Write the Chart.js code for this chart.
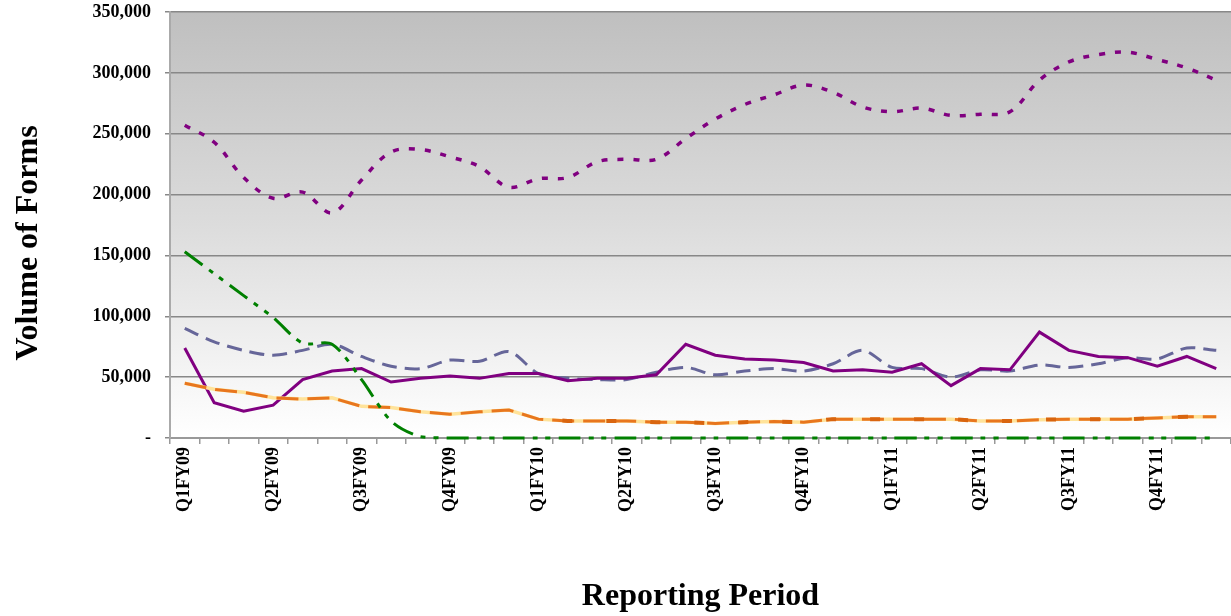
<!DOCTYPE html>
<html>
<head>
<meta charset="utf-8">
<script src="https://cdn.jsdelivr.net/npm/chart.js@4/dist/chart.umd.min.js"></script>
<style>
  html, body { margin: 0; padding: 0; background: #fff; }
  #wrap { width: 1231px; height: 616px; }
</style>
</head>
<body>
<div id="wrap"><canvas id="formsChart" width="1231" height="616"></canvas></div>
<script>
// 36 monthly periods, labelled once per quarter
const categories = [
    'Q1FY09', '', '', 'Q2FY09', '', '', 'Q3FY09', '', '', 'Q4FY09', '', '',
    'Q1FY10', '', '', 'Q2FY10', '', '', 'Q3FY10', '', '', 'Q4FY10', '', '',
    'Q1FY11', '', '', 'Q2FY11', '', '', 'Q3FY11', '', '', 'Q4FY11', '', ''
];
const yTicks = [0, 50000, 100000, 150000, 200000, 250000, 300000, 350000];

const dottedPurple = [257000, 243000, 214000, 197000, 202000, 185000, 212000, 235000, 237000, 231000, 223000, 206000,
    213000, 214000, 227000, 229000, 229000, 246000, 262000, 274000, 282000, 290000, 284000, 272000,
    268000, 271000, 265000, 266000, 268000, 294000, 309000, 315000, 317000, 311000, 304000, 294000];
const greenDashDot = [153000, 135000, 117000, 99000, 78000, 77000, 48000, 14000, 1000, 0, 0, 0,
    0, 0, 0, 0, 0, 0, 0, 0, 0, 0, 0, 0,
    0, 0, 0, 0, 0, 0, 0, 0, 0, 0, 0, 0];
const slateDashed = [90000, 79000, 72000, 68000, 72000, 77000, 67000, 59000, 57000, 64000, 63000, 71000,
    53000, 49000, 48000, 48000, 54000, 58000, 52000, 55000, 57000, 55000, 61000, 72000,
    58000, 57000, 50000, 56000, 55000, 60000, 58000, 61000, 66000, 65000, 74000, 72000];
const purpleSolid = [74000, 29000, 22000, 27000, 48000, 55000, 57000, 46000, 49000, 51000, 49000, 53000,
    53000, 47000, 49000, 49000, 52000, 77000, 68000, 65000, 64000, 62000, 55000, 56000,
    54000, 61000, 43000, 57000, 56000, 87000, 72000, 67000, 66000, 59000, 67000, 57000];
const orangeLine = [45000, 40000, 37500, 33000, 32000, 33000, 26000, 25000, 21500, 19500, 21500, 23000,
    15500, 14000, 14000, 14000, 13000, 13000, 12000, 13000, 13500, 13000, 15500, 15500,
    15500, 15500, 15500, 14000, 14000, 15000, 15500, 15500, 15500, 16500, 17500, 17500];
// second orange series, only reported from Q1FY10 on
const orangeLate = [null, null, null, null, null, null, null, null, null, null, null, null,
    15500, 14000, 14000, 14000, 13000, 13000, 12000, 13000, 13500, 13000, 15500, 15500,
    15500, 15500, 15500, 14000, 14000, 15000, 15500, 15500, 15500, 16500, 17500, 17500];

const serif = "'Liberation Serif', 'Times New Roman', serif";

// grey-to-white fill behind the plot
const plotBackground = {
    id: 'plotBackground',
    beforeDraw(chart) {
        const { ctx, chartArea } = chart;
        const g = ctx.createLinearGradient(0, chartArea.top, 0, chartArea.bottom);
        g.addColorStop(0, '#bfbfbf');
        g.addColorStop(0.5, '#dcdcdc');
        g.addColorStop(1, '#ffffff');
        ctx.save();
        ctx.fillStyle = g;
        ctx.fillRect(chartArea.left, chartArea.top, chartArea.right - chartArea.left, chartArea.bottom - chartArea.top);
        ctx.restore();
    }
};

// y axis title sits a little below the plot's middle in the original
const yTitle = {
    id: 'yTitle',
    afterDraw(chart) {
        const ctx = chart.ctx;
        ctx.save();
        ctx.translate(29, 243);
        ctx.rotate(-Math.PI / 2);
        ctx.font = 'bold 32px ' + serif;
        ctx.fillStyle = '#000';
        ctx.textAlign = 'center';
        ctx.textBaseline = 'middle';
        ctx.fillText('Volume of Forms', 0, 0);
        ctx.restore();
    }
};

// first dataset is drawn on top
new Chart(document.getElementById('formsChart'), {
    type: 'line',
    data: {
        labels: categories,
        datasets: [
            { data: greenDashDot, borderColor: '#008000', borderWidth: 3, borderDash: [22, 8, 5, 8, 5, 8], tension: 0.3, clip: false },
            { data: orangeLate, borderColor: '#d9650f', borderWidth: 4, borderDash: [10, 34], borderDashOffset: 20, tension: 0 },
            { data: orangeLine, borderColor: '#e8761e', borderWidth: 3, borderDash: [22, 9], tension: 0 },
            { data: orangeLine, borderColor: '#ffe39a', borderWidth: 3.5, tension: 0 },
            { data: purpleSolid, borderColor: '#800080', borderWidth: 3, tension: 0 },
            { data: slateDashed, borderColor: '#666699', borderWidth: 3, borderDash: [15, 8], tension: 0.3 },
            { data: dottedPurple, borderColor: '#800080', borderWidth: 3.5, borderDash: [6, 10], tension: 0.35 }
        ]
    },
    options: {
        responsive: false,
        animation: false,
        layout: { padding: { top: 12, right: 0, left: 0, bottom: 0 } },
        elements: { point: { radius: 0 } },
        plugins: { legend: { display: false }, tooltip: { enabled: false } },
        scales: {
            x: {
                offset: true,
                grid: { offset: true, drawOnChartArea: false, drawTicks: true, tickLength: 6, color: '#999999', lineWidth: 1.5 },
                border: { color: '#999999', width: 2 },
                ticks: {
                    autoSkip: false,
                    maxRotation: 90,
                    minRotation: 90,
                    padding: 3,
                    color: '#000',
                    font: { family: serif, size: 18, weight: 'bold' }
                },
                title: {
                    display: true,
                    text: 'Reporting Period',
                    color: '#000',
                    font: { family: serif, size: 32, weight: 'bold' },
                    padding: { top: 0, bottom: 0 }
                },
                afterFit(scale) {
                    scale.height = 178;
                    scale.paddingLeft = 0;
                    scale.paddingRight = 0;
                }
            },
            y: {
                min: 0,
                max: 350000,
                afterBuildTicks(scale) { scale.ticks = yTicks.map(v => ({ value: v })); },
                grid: { color: '#888888', lineWidth: 1.5, tickLength: 5 },
                border: { color: '#aaaaaa', width: 2 },
                ticks: {
                    padding: 14,
                    color: '#000',
                    font: { family: serif, size: 18, weight: 'bold' },
                    callback: v => v === 0 ? '-' : v.toLocaleString('en-US')
                },
                afterFit(scale) {
                    scale.width = 170;
                    scale.paddingTop = 0;
                    scale.paddingBottom = 0;
                }
            }
        }
    },
    plugins: [plotBackground, yTitle]
});
</script>
</body>
</html>
